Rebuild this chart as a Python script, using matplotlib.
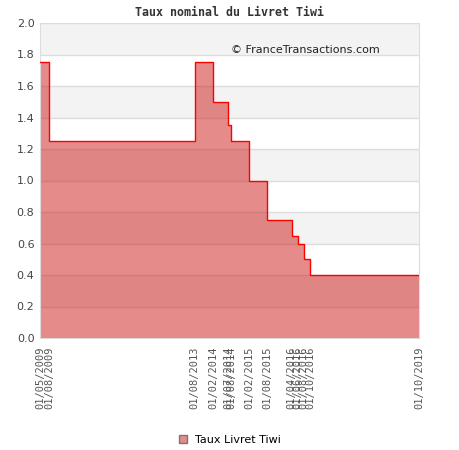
import matplotlib
matplotlib.use("Agg")
import matplotlib.pyplot as plt
from matplotlib.patches import Patch
import pandas as pd

change_dates = ["2009-05-01", "2009-08-01", "2013-08-01", "2014-02-01", "2014-07-01",
                "2014-08-01", "2015-02-01", "2015-08-01", "2016-04-01", "2016-06-01",
                "2016-08-01", "2016-10-01", "2019-10-01"]
rates = [1.75, 1.25, 1.75, 1.50, 1.35, 1.25, 1.00, 0.75, 0.65, 0.60, 0.50, 0.40, 0.40]
tick_labels = ["01/05/2009", "01/08/2009", "01/08/2013", "01/02/2014", "01/07/2014",
               "01/08/2014", "01/02/2015", "01/08/2015", "01/04/2016", "01/06/2016",
               "01/08/2016", "01/10/2016", "01/10/2019"]
y_ticks = [0.0, 0.2, 0.4, 0.6, 0.8, 1.0, 1.2, 1.4, 1.6, 1.8, 2.0]

dates = pd.to_datetime(change_dates)
fig = plt.figure(figsize=(4.6, 4.5), dpi=100)
ax = fig.add_axes([40/460, 112/450, 379/460, 315/450])

# alternating bands
for i in range(len(y_ticks) - 1):
    if i % 2 == 1:
        ax.axhspan(y_ticks[i], y_ticks[i+1], color="#f3f3f3", zorder=0, lw=0)
for y in y_ticks:
    ax.axhline(y, color="#dddddd", lw=1, zorder=1)

ax.fill_between(dates, rates, step="post", color="#cc1816", alpha=0.5, lw=0, zorder=2)
ax.step(dates, rates, where="post", color="#ff0000", lw=1, zorder=3)

ax.set_xlim(dates[0], dates[-1])
ax.set_ylim(0, 2.0)
ax.set_yticks(y_ticks)
ax.set_yticklabels([f"{v:.1f}" for v in y_ticks], fontsize=8, color="#444444")
ax.set_xticks(dates)
ax.set_xticklabels(tick_labels, rotation=90, fontsize=7.5, color="#555555",
                   family="DejaVu Sans Mono")
ax.tick_params(axis="y", length=0, pad=4)
ax.tick_params(axis="x", length=0, pad=6)
for s in ax.spines.values():
    s.set_color("#dddddd")

ax.set_title("Taux nominal du Livret Tiwi", fontsize=8.4, fontweight="bold",
             family="DejaVu Sans Mono", color="#333333", pad=5)
ax.text(0.505, 0.914, "© FranceTransactions.com", transform=ax.transAxes,
        fontsize=8, color="#222222", va="center", zorder=5)

handle = Patch(facecolor="#e58b8a", edgecolor="#777777", lw=1)
leg = fig.legend([handle], ["Taux Livret Tiwi"], loc="center",
                 bbox_to_anchor=(0.5, 1 - 440/450), frameon=False, fontsize=8,
                 handlelength=0.7, handleheight=0.7)

fig.savefig("out.png", dpi=100)
